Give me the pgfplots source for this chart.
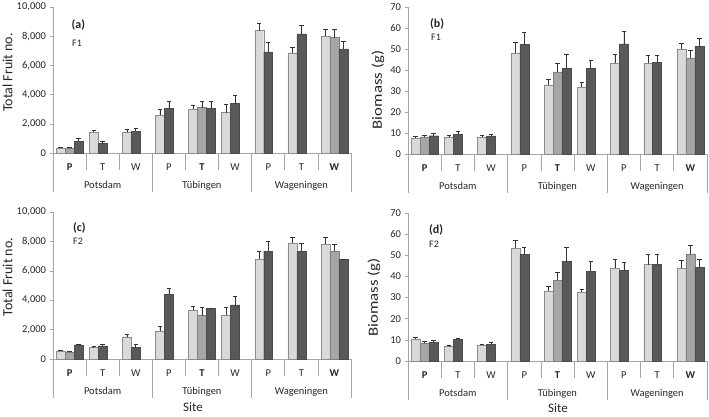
\documentclass[border=0pt]{standalone}
\usepackage{pgfplots}
\pgfplotsset{compat=1.18}
\usepackage{pgfplotstable}
\usepackage{fontspec}
\setmainfont{Carlito}
\definecolor{cL}{HTML}{D9D9D9}
\definecolor{cM}{HTML}{A6A6A6}
\definecolor{cD}{HTML}{595959}
\definecolor{axg}{HTML}{A6A6A6}

% ---------- Panel (a): Total fruit, F1 ----------
\pgfplotstableread{
x y e
-0.27 350 60
0.73 1430 100
1.73 1410 230
2.73 2570 400
3.73 3020 250
4.73 2770 550
5.73 8390 520
6.73 6860 400
7.73 8000 480
}\aL
\pgfplotstableread{
x y e
0 330 50
4 3110 450
8 7910 550
}\aM
\pgfplotstableread{
x y e
0.27 800 200
1 680 150
2 1480 200
3 3070 450
4.27 3070 480
5 3390 550
6 6930 680
7 8160 600
8.27 7140 520
}\aD
% ---------- Panel (b): Biomass, F1 ----------
\pgfplotstableread{
x y e
-0.27 7.4 0.8
0.73 8.1 0.8
1.73 8.1 0.6
2.73 48.1 5.1
3.73 32.9 2.9
4.73 32.0 2.2
5.73 43.1 4.6
6.73 43.2 3.8
7.73 49.9 3.0
}\bL
\pgfplotstableread{
x y e
0 8.1 0.8
4 39.1 4.3
8 45.8 3.6
}\bM
\pgfplotstableread{
x y e
0.27 8.7 1.0
1 9.3 1.5
2 8.6 0.7
3 52.1 5.9
4.27 40.7 6.7
5 40.7 3.8
6 52.4 6.2
7 43.7 3.2
8.27 51.2 4.1
}\bD
% ---------- Panel (c): Total fruit, F2 ----------
\pgfplotstableread{
x y e
-0.27 545 65
0.73 770 120
1.73 1500 180
2.73 1910 340
3.73 3320 250
4.73 3000 520
5.73 6800 520
6.73 7890 410
7.73 7820 480
}\cL
\pgfplotstableread{
x y e
0 455 65
4 2950 550
8 7340 480
}\cM
\pgfplotstableread{
x y e
0.27 955 45
1 890 110
2 770 230
3 4410 410
4.27 3430 30
5 3680 570
6 7320 720
7 7320 570
8.27 6770 30
}\cD
% ---------- Panel (d): Biomass, F2 ----------
\pgfplotstableread{
x y e
-0.27 10.2 1.0
0.73 6.8 0.6
1.73 7.6 0.3
2.73 53.3 3.6
3.73 33.2 2.0
4.73 32.6 1.4
5.73 43.9 4.1
6.73 45.6 5.1
7.73 43.9 3.8
}\dL
\pgfplotstableread{
x y e
0 8.3 0.8
4 38.2 3.8
8 50.7 4.2
}\dM
\pgfplotstableread{
x y e
0.27 8.8 1.0
1 10.2 0.7
2 8.0 0.7
3 50.5 3.5
4.27 47.0 6.8
5 42.5 4.5
6 42.8 3.9
7 45.8 4.9
8.27 44.2 4.1
}\dD

\newcommand{\fs}{\fontsize{10.5}{12}\selectfont}
\tikzset{lab/.style={font=\fs, text=black!85, inner sep=0pt}}

\pgfplotsset{
  panel/.style={
    scale only axis, xmin=-0.5, xmax=8.5, ymin=0,
    axis x line*=bottom, axis y line*=left,
    axis line style={axg, line width=0.6pt},
    xtick=\empty,
    ytick style={axg, line width=0.6pt},
    tick align=outside, major tick length=3.5pt,
    yticklabel style={font=\fs, text=black!85},
    /pgf/number format/assume math mode=true,
    /pgf/number format/1000 sep={,},
    scaled y ticks=false,
    ybar, bar width=0.27,
    clip=false,
  },
  errs/.style={error bars/.cd, y dir=plus, y explicit,
    error bar style={black!80, line width=0.6pt},
    error mark=-,
    error mark options={black!80, line width=0.6pt, mark size=2.2pt, rotate=90}},
  bL/.style={fill=cL, draw=black!45, line width=0.4pt, bar shift=0pt, errs},
  bM/.style={fill=cM, draw=black!50, line width=0.4pt, bar shift=0pt, errs},
  bD/.style={fill=cD, draw=black!70, line width=0.4pt, bar shift=0pt, errs},
}

\newcommand{\cats}{%
  \draw[axg, line width=0.6pt] (axis cs:-0.5,0) -- ++(0pt,-39pt);
  \draw[axg, line width=0.6pt] (axis cs:2.5,0) -- ++(0pt,-39pt);
  \draw[axg, line width=0.6pt] (axis cs:5.5,0) -- ++(0pt,-39pt);
  \draw[axg, line width=0.6pt] (axis cs:8.5,0) -- ++(0pt,-39pt);
  \draw[axg, line width=0.6pt] (axis cs:0.5,0) -- ++(0pt,-17pt);
  \draw[axg, line width=0.6pt] (axis cs:1.5,0) -- ++(0pt,-17pt);
  \draw[axg, line width=0.6pt] (axis cs:3.5,0) -- ++(0pt,-17pt);
  \draw[axg, line width=0.6pt] (axis cs:4.5,0) -- ++(0pt,-17pt);
  \draw[axg, line width=0.6pt] (axis cs:6.5,0) -- ++(0pt,-17pt);
  \draw[axg, line width=0.6pt] (axis cs:7.5,0) -- ++(0pt,-17pt);
  \node[lab, anchor=base] at ([yshift=-17.5pt]axis cs:0,0) {\textbf{P}};
  \node[lab, anchor=base] at ([yshift=-17.5pt]axis cs:1,0) {T};
  \node[lab, anchor=base] at ([yshift=-17.5pt]axis cs:2,0) {W};
  \node[lab, anchor=base] at ([yshift=-17.5pt]axis cs:3,0) {P};
  \node[lab, anchor=base] at ([yshift=-17.5pt]axis cs:4,0) {\textbf{T}};
  \node[lab, anchor=base] at ([yshift=-17.5pt]axis cs:5,0) {W};
  \node[lab, anchor=base] at ([yshift=-17.5pt]axis cs:6,0) {P};
  \node[lab, anchor=base] at ([yshift=-17.5pt]axis cs:7,0) {T};
  \node[lab, anchor=base] at ([yshift=-17.5pt]axis cs:8,0) {\textbf{W}};
  \node[lab, anchor=base] at ([yshift=-35.5pt]axis cs:1,0) {Potsdam};
  \node[lab, anchor=base] at ([yshift=-35.5pt]axis cs:4,0) {Tübingen};
  \node[lab, anchor=base] at ([yshift=-35.5pt]axis cs:7,0) {Wageningen};
}

\begin{document}
\begin{tikzpicture}
\path[use as bounding box] (0pt,0pt) rectangle (709pt,416pt);

% (a)
\begin{axis}[panel, at={(53pt,263pt)}, anchor=south west, width=298pt, height=146pt,
  ymax=10000, ytick={0,2000,...,10000}]
  \addplot[bL] table[x=x,y=y,y error=e]{\aL};
  \addplot[bM] table[x=x,y=y,y error=e]{\aM};
  \addplot[bD] table[x=x,y=y,y error=e]{\aD};
  \cats
\end{axis}

% (b)
\begin{axis}[panel, at={(408pt,262pt)}, anchor=south west, width=299pt, height=147pt,
  ymax=70, ytick={0,10,...,70}]
  \addplot[bL] table[x=x,y=y,y error=e]{\bL};
  \addplot[bM] table[x=x,y=y,y error=e]{\bM};
  \addplot[bD] table[x=x,y=y,y error=e]{\bD};
  \cats
\end{axis}

% (c)
\begin{axis}[panel, at={(53pt,57pt)}, anchor=south west, width=298pt, height=147pt,
  ymax=10000, ytick={0,2000,...,10000}]
  \addplot[bL] table[x=x,y=y,y error=e]{\cL};
  \addplot[bM] table[x=x,y=y,y error=e]{\cM};
  \addplot[bD] table[x=x,y=y,y error=e]{\cD};
  \cats
\end{axis}

% (d)
\begin{axis}[panel, at={(408pt,55pt)}, anchor=south west, width=299pt, height=148pt,
  ymax=70, ytick={0,10,...,70}]
  \addplot[bL] table[x=x,y=y,y error=e]{\dL};
  \addplot[bM] table[x=x,y=y,y error=e]{\dM};
  \addplot[bD] table[x=x,y=y,y error=e]{\dD};
  \cats
\end{axis}

% axis titles
\node[rotate=90, font=\fontsize{14}{16}\selectfont, text=black!85] at (7.5pt,343.5pt) {Total Fruit no.};
\node[yscale=1.2, rotate=90, font=\fontsize{14}{16}\selectfont, text=black!85] at (378pt,326pt) {Biomass (g)};
\node[rotate=90, font=\fontsize{14}{16}\selectfont, text=black!85] at (7.5pt,139pt) {Total Fruit no.};
\node[yscale=1.2, rotate=90, font=\fontsize{14}{16}\selectfont, text=black!85] at (374pt,118.5pt) {Biomass (g)};
\node[font=\fontsize{13}{15}\selectfont, text=black!85] at (193pt,9pt) {Site};
\node[font=\fontsize{13}{15}\selectfont, text=black!85] at (558pt,8pt) {Site};

% panel tags
\node[anchor=west, inner sep=0pt, font=\fontsize{12}{14}\selectfont\bfseries, text=black!85] at (71.5pt,391pt) {(a)};
\node[anchor=west, inner sep=0pt, font=\fontsize{10}{12}\selectfont, text=black!85] at (72pt,373pt) {F1};
\node[anchor=west, inner sep=0pt, font=\fontsize{12}{14}\selectfont\bfseries, text=black!85] at (430pt,392pt) {(b)};
\node[anchor=west, inner sep=0pt, font=\fontsize{10}{12}\selectfont, text=black!85] at (431pt,379pt) {F1};
\node[anchor=west, inner sep=0pt, font=\fontsize{12}{14}\selectfont\bfseries, text=black!85] at (73pt,188pt) {(c)};
\node[anchor=west, inner sep=0pt, font=\fontsize{10}{12}\selectfont, text=black!85] at (73pt,175pt) {F2};
\node[anchor=west, inner sep=0pt, font=\fontsize{12}{14}\selectfont\bfseries, text=black!85] at (429pt,186pt) {(d)};
\node[anchor=west, inner sep=0pt, font=\fontsize{10}{12}\selectfont, text=black!85] at (429pt,172pt) {F2};
\end{tikzpicture}
\end{document}
